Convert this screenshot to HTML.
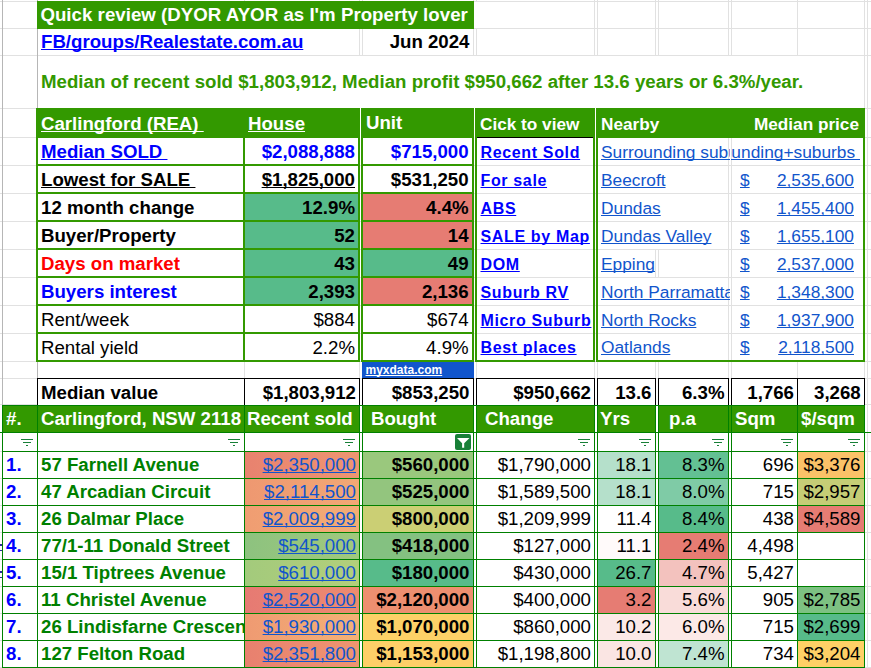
<!DOCTYPE html>
<html><head><meta charset="utf-8"><title>sheet</title>
<style>
html,body{margin:0;padding:0;background:#fff;}
body{width:871px;height:668px;position:relative;overflow:hidden;font-family:"Liberation Sans",sans-serif;}
body div,body svg{position:absolute;}
.t{position:absolute;white-space:nowrap;text-decoration-skip-ink:none;}
.c{overflow:hidden;}
</style></head><body>
<div style="left:0px;top:1px;width:871px;height:1px;background:#e1e1e1;"></div>
<div style="left:0px;top:28px;width:871px;height:1px;background:#e1e1e1;"></div>
<div style="left:0px;top:55px;width:871px;height:1px;background:#e1e1e1;"></div>
<div style="left:0px;top:108px;width:871px;height:1px;background:#e1e1e1;"></div>
<div style="left:0px;top:137px;width:871px;height:1px;background:#e1e1e1;"></div>
<div style="left:0px;top:165px;width:871px;height:1px;background:#e1e1e1;"></div>
<div style="left:0px;top:193px;width:871px;height:1px;background:#e1e1e1;"></div>
<div style="left:0px;top:221px;width:871px;height:1px;background:#e1e1e1;"></div>
<div style="left:0px;top:249px;width:871px;height:1px;background:#e1e1e1;"></div>
<div style="left:0px;top:277px;width:871px;height:1px;background:#e1e1e1;"></div>
<div style="left:0px;top:305px;width:871px;height:1px;background:#e1e1e1;"></div>
<div style="left:0px;top:333px;width:871px;height:1px;background:#e1e1e1;"></div>
<div style="left:0px;top:361px;width:871px;height:1px;background:#e1e1e1;"></div>
<div style="left:0px;top:378px;width:871px;height:1px;background:#e1e1e1;"></div>
<div style="left:0px;top:404px;width:871px;height:1px;background:#e1e1e1;"></div>
<div style="left:37px;top:0px;width:1px;height:405px;background:#b6b6b6;"></div>
<div style="left:244px;top:0px;width:1px;height:405px;background:#e1e1e1;"></div>
<div style="left:359px;top:0px;width:1px;height:405px;background:#e1e1e1;"></div>
<div style="left:362px;top:0px;width:1px;height:405px;background:#e1e1e1;"></div>
<div style="left:473px;top:0px;width:1px;height:405px;background:#e1e1e1;"></div>
<div style="left:476px;top:0px;width:1px;height:405px;background:#e1e1e1;"></div>
<div style="left:594px;top:0px;width:1px;height:405px;background:#e1e1e1;"></div>
<div style="left:597px;top:0px;width:1px;height:405px;background:#e1e1e1;"></div>
<div style="left:655px;top:0px;width:1px;height:405px;background:#e1e1e1;"></div>
<div style="left:658px;top:0px;width:1px;height:405px;background:#e1e1e1;"></div>
<div style="left:728px;top:0px;width:1px;height:405px;background:#e1e1e1;"></div>
<div style="left:731px;top:0px;width:1px;height:405px;background:#e1e1e1;"></div>
<div style="left:797px;top:0px;width:1px;height:405px;background:#e1e1e1;"></div>
<div style="left:864px;top:0px;width:1px;height:405px;background:#e1e1e1;"></div>
<div style="left:867px;top:0px;width:1px;height:405px;background:#e1e1e1;"></div>
<div style="left:2px;top:0px;width:1px;height:405px;background:#b6b6b6;"></div>
<div style="left:867px;top:405px;width:1px;height:263px;background:#e1e1e1;"></div>
<div style="left:474px;top:2px;width:3px;height:26px;background:#fff;"></div>
<div style="left:38px;top:56px;width:826px;height:52px;background:#fff;"></div>
<div style="left:38px;top:29px;width:321px;height:26px;background:#fff;"></div>
<div style="left:363px;top:29px;width:110px;height:26px;background:#fff;"></div>
<div style="left:37px;top:1px;width:437px;height:28px;background:#339900;"></div>
<div class="c" style="left:37px;top:3.03px;width:437px;height:24px;"><span class="t" style="top:3.03px;height:24px;line-height:24px;font-size:18.667px;color:#fff;font-weight:bold;letter-spacing:0.03px;top:0;left:3.3999999999999986px;">Quick review (DYOR AYOR as I'm Property lover</span></div>
<span class="t" style="top:30.03px;height:24px;line-height:24px;font-size:18.667px;color:#0000ff;font-weight:bold;text-decoration:underline;left:41px;">FB/groups/Realestate.com.au</span>
<span class="t" style="top:30.03px;height:24px;line-height:24px;font-size:18.667px;color:#000;font-weight:bold;right:401.5px;">Jun 2024</span>
<span class="t" style="top:70.03px;height:24px;line-height:24px;font-size:18.667px;color:#339900;font-weight:bold;letter-spacing:0.012px;left:41px;">Median of recent sold $1,803,912, Median profit $950,662 after 13.6 years or 6.3%/year.</span>
<div style="left:36px;top:108px;width:829px;height:30px;background:#339900;"></div>
<div style="left:360px;top:108px;width:1px;height:30px;background:#fff;"></div>
<div style="left:474px;top:108px;width:1px;height:30px;background:#fff;"></div>
<div style="left:595px;top:108px;width:1px;height:30px;background:#fff;"></div>
<div style="left:245px;top:194px;width:113px;height:28px;background:#57bb8a;"></div>
<div style="left:245px;top:222px;width:113px;height:28px;background:#57bb8a;"></div>
<div style="left:245px;top:250px;width:113px;height:28px;background:#57bb8a;"></div>
<div style="left:245px;top:278px;width:113px;height:28px;background:#57bb8a;"></div>
<div style="left:363px;top:194px;width:109px;height:28px;background:#e67c73;"></div>
<div style="left:363px;top:222px;width:109px;height:28px;background:#e67c73;"></div>
<div style="left:363px;top:250px;width:109px;height:28px;background:#57bb8a;"></div>
<div style="left:363px;top:278px;width:109px;height:28px;background:#e67c73;"></div>
<div style="left:36px;top:164px;width:324px;height:2px;background:#339900;"></div>
<div style="left:361px;top:164px;width:113px;height:2px;background:#339900;"></div>
<div style="left:36px;top:192px;width:324px;height:2px;background:#339900;"></div>
<div style="left:361px;top:192px;width:113px;height:2px;background:#339900;"></div>
<div style="left:36px;top:220px;width:324px;height:2px;background:#339900;"></div>
<div style="left:361px;top:220px;width:113px;height:2px;background:#339900;"></div>
<div style="left:36px;top:248px;width:324px;height:2px;background:#339900;"></div>
<div style="left:361px;top:248px;width:113px;height:2px;background:#339900;"></div>
<div style="left:36px;top:276px;width:324px;height:2px;background:#339900;"></div>
<div style="left:361px;top:276px;width:113px;height:2px;background:#339900;"></div>
<div style="left:36px;top:304px;width:324px;height:2px;background:#339900;"></div>
<div style="left:361px;top:304px;width:113px;height:2px;background:#339900;"></div>
<div style="left:36px;top:332px;width:324px;height:2px;background:#339900;"></div>
<div style="left:361px;top:332px;width:113px;height:2px;background:#339900;"></div>
<div style="left:36px;top:360px;width:324px;height:2px;background:#339900;"></div>
<div style="left:361px;top:360px;width:113px;height:2px;background:#339900;"></div>
<div style="left:475px;top:360px;width:120px;height:2px;background:#339900;"></div>
<div style="left:596px;top:360px;width:269px;height:2px;background:#339900;"></div>
<div style="left:36px;top:137px;width:2px;height:225px;background:#339900;"></div>
<div style="left:243px;top:137px;width:2px;height:225px;background:#339900;"></div>
<div style="left:358px;top:137px;width:2px;height:225px;background:#339900;"></div>
<div style="left:361px;top:137px;width:2px;height:225px;background:#339900;"></div>
<div style="left:472px;top:137px;width:2px;height:225px;background:#339900;"></div>
<div style="left:475px;top:137px;width:2px;height:225px;background:#339900;"></div>
<div style="left:593px;top:137px;width:2px;height:225px;background:#339900;"></div>
<div style="left:596px;top:137px;width:2px;height:225px;background:#339900;"></div>
<div style="left:863px;top:137px;width:2px;height:225px;background:#339900;"></div>
<div style="left:477px;top:137px;width:116px;height:1px;background:#000;"></div>
<span class="t" style="top:112.03px;height:24px;line-height:24px;font-size:18.667px;color:#fff;font-weight:bold;text-decoration:underline;left:41px;">Carlingford (REA)&nbsp;</span>
<span class="t" style="top:112.03px;height:24px;line-height:24px;font-size:18.667px;color:#fff;font-weight:bold;text-decoration:underline;left:248px;">House</span>
<span class="t" style="top:111.03px;height:24px;line-height:24px;font-size:18.667px;color:#fff;font-weight:bold;left:366px;">Unit</span>
<span class="t" style="top:111.54px;height:24px;line-height:24px;font-size:17.2px;color:#fff;font-weight:bold;left:480px;">Cick to view</span>
<span class="t" style="top:111.54px;height:24px;line-height:24px;font-size:17.2px;color:#fff;font-weight:bold;left:601px;">Nearby</span>
<span class="t" style="top:111.54px;height:24px;line-height:24px;font-size:17.2px;color:#fff;font-weight:bold;right:12px;">Median price</span>
<span class="t" style="top:140.03px;height:24px;line-height:24px;font-size:18.667px;color:#0000ff;font-weight:bold;text-decoration:underline;left:41px;">Median SOLD&nbsp;</span>
<span class="t" style="top:140.03px;height:24px;line-height:24px;font-size:18.667px;color:#0000ff;font-weight:bold;right:516px;">$2,088,888</span>
<span class="t" style="top:140.03px;height:24px;line-height:24px;font-size:18.667px;color:#0000ff;font-weight:bold;right:402.4px;">$715,000</span>
<span class="t" style="top:168.03px;height:24px;line-height:24px;font-size:18.667px;color:#000;font-weight:bold;text-decoration:underline;left:41px;">Lowest for SALE&nbsp;</span>
<span class="t" style="top:168.03px;height:24px;line-height:24px;font-size:18.667px;color:#000;font-weight:bold;text-decoration:underline;right:516px;">$1,825,000</span>
<span class="t" style="top:168.03px;height:24px;line-height:24px;font-size:18.667px;color:#000;font-weight:bold;right:402.4px;">$531,250</span>
<span class="t" style="top:196.03px;height:24px;line-height:24px;font-size:18.667px;color:#000;font-weight:bold;left:41px;">12 month change</span>
<span class="t" style="top:196.03px;height:24px;line-height:24px;font-size:18.667px;color:#000;font-weight:bold;right:516px;">12.9%</span>
<span class="t" style="top:196.03px;height:24px;line-height:24px;font-size:18.667px;color:#000;font-weight:bold;right:402.4px;">4.4%</span>
<span class="t" style="top:224.03px;height:24px;line-height:24px;font-size:18.667px;color:#000;font-weight:bold;left:41px;">Buyer/Property</span>
<span class="t" style="top:224.03px;height:24px;line-height:24px;font-size:18.667px;color:#000;font-weight:bold;right:516px;">52</span>
<span class="t" style="top:224.03px;height:24px;line-height:24px;font-size:18.667px;color:#000;font-weight:bold;right:402.4px;">14</span>
<span class="t" style="top:252.03px;height:24px;line-height:24px;font-size:18.667px;color:#ff0000;font-weight:bold;left:41px;">Days on market</span>
<span class="t" style="top:252.03px;height:24px;line-height:24px;font-size:18.667px;color:#000;font-weight:bold;right:516px;">43</span>
<span class="t" style="top:252.03px;height:24px;line-height:24px;font-size:18.667px;color:#000;font-weight:bold;right:402.4px;">49</span>
<span class="t" style="top:280.03px;height:24px;line-height:24px;font-size:18.667px;color:#0000ff;font-weight:bold;left:41px;">Buyers interest</span>
<span class="t" style="top:280.03px;height:24px;line-height:24px;font-size:18.667px;color:#000;font-weight:bold;right:516px;">2,393</span>
<span class="t" style="top:280.03px;height:24px;line-height:24px;font-size:18.667px;color:#000;font-weight:bold;right:402.4px;">2,136</span>
<span class="t" style="top:308.03px;height:24px;line-height:24px;font-size:18.667px;color:#000;left:41px;">Rent/week</span>
<span class="t" style="top:308.03px;height:24px;line-height:24px;font-size:18.667px;color:#000;right:516px;">$884</span>
<span class="t" style="top:308.03px;height:24px;line-height:24px;font-size:18.667px;color:#000;right:402.4px;">$674</span>
<span class="t" style="top:336.03px;height:24px;line-height:24px;font-size:18.667px;color:#000;left:41px;">Rental yield</span>
<span class="t" style="top:336.03px;height:24px;line-height:24px;font-size:18.667px;color:#000;right:516px;">2.2%</span>
<span class="t" style="top:336.03px;height:24px;line-height:24px;font-size:18.667px;color:#000;right:402.4px;">4.9%</span>
<div class="c" style="left:477px;top:140.96px;width:116px;height:24px;"><span class="t" style="top:140.96px;height:24px;line-height:24px;font-size:16px;color:#0000ff;font-weight:bold;text-decoration:underline;letter-spacing:0.65px;top:0;left:3.5px;">Recent Sold</span></div>
<div class="c" style="left:477px;top:168.96px;width:116px;height:24px;"><span class="t" style="top:168.96px;height:24px;line-height:24px;font-size:16px;color:#0000ff;font-weight:bold;text-decoration:underline;letter-spacing:0.65px;top:0;left:3.5px;">For sale</span></div>
<div class="c" style="left:477px;top:196.96px;width:116px;height:24px;"><span class="t" style="top:196.96px;height:24px;line-height:24px;font-size:16px;color:#0000ff;font-weight:bold;text-decoration:underline;letter-spacing:0.65px;top:0;left:3.5px;">ABS</span></div>
<div class="c" style="left:477px;top:224.96px;width:116px;height:24px;"><span class="t" style="top:224.96px;height:24px;line-height:24px;font-size:16px;color:#0000ff;font-weight:bold;text-decoration:underline;letter-spacing:0.65px;top:0;left:3.5px;">SALE by Map</span></div>
<div class="c" style="left:477px;top:252.96px;width:116px;height:24px;"><span class="t" style="top:252.96px;height:24px;line-height:24px;font-size:16px;color:#0000ff;font-weight:bold;text-decoration:underline;letter-spacing:0.65px;top:0;left:3.5px;">DOM</span></div>
<div class="c" style="left:477px;top:280.96px;width:116px;height:24px;"><span class="t" style="top:280.96px;height:24px;line-height:24px;font-size:16px;color:#0000ff;font-weight:bold;text-decoration:underline;letter-spacing:0.65px;top:0;left:3.5px;">Suburb RV</span></div>
<div class="c" style="left:477px;top:308.96px;width:116px;height:24px;"><span class="t" style="top:308.96px;height:24px;line-height:24px;font-size:16px;color:#0000ff;font-weight:bold;text-decoration:underline;letter-spacing:0.65px;top:0;left:3.5px;">Micro Suburb</span></div>
<div class="c" style="left:477px;top:335.96px;width:116px;height:24px;"><span class="t" style="top:335.96px;height:24px;line-height:24px;font-size:16px;color:#0000ff;font-weight:bold;text-decoration:underline;letter-spacing:0.65px;top:0;left:3.5px;">Best places</span></div>
<div style="left:655px;top:138px;width:4px;height:27px;background:#fff;"></div>
<div style="left:655px;top:166px;width:4px;height:27px;background:#fff;"></div>
<div style="left:655px;top:194px;width:4px;height:27px;background:#fff;"></div>
<div style="left:655px;top:222px;width:4px;height:27px;background:#fff;"></div>
<div style="left:655px;top:278px;width:4px;height:27px;background:#fff;"></div>
<div style="left:655px;top:306px;width:4px;height:27px;background:#fff;"></div>
<div style="left:655px;top:334px;width:4px;height:26px;background:#fff;"></div>
<div style="left:797px;top:138px;width:1px;height:27px;background:#fff;"></div>
<div style="left:797px;top:166px;width:1px;height:27px;background:#fff;"></div>
<div style="left:797px;top:194px;width:1px;height:27px;background:#fff;"></div>
<div style="left:797px;top:222px;width:1px;height:27px;background:#fff;"></div>
<div style="left:797px;top:250px;width:1px;height:27px;background:#fff;"></div>
<div style="left:797px;top:278px;width:1px;height:27px;background:#fff;"></div>
<div style="left:797px;top:306px;width:1px;height:27px;background:#fff;"></div>
<div style="left:797px;top:334px;width:1px;height:26px;background:#fff;"></div>
<div class="c" style="left:598px;top:140.49px;width:132px;height:24px;"><span class="t" style="top:140.49px;height:24px;line-height:24px;font-size:17.333px;color:#1155cc;text-decoration:underline;top:0;left:3px;">Surrounding suburbs</span></div>
<div class="c" style="left:598px;top:168.49px;width:134px;height:24px;"><span class="t" style="top:168.49px;height:24px;line-height:24px;font-size:17.333px;color:#1155cc;text-decoration:underline;top:0;left:3px;">Beecroft</span></div>
<span class="t" style="top:168.49px;height:24px;line-height:24px;font-size:17.333px;color:#1155cc;text-decoration:underline;left:740px;">$</span>
<span class="t" style="top:168.49px;height:24px;line-height:24px;font-size:17.333px;color:#1155cc;text-decoration:underline;right:17px;">2,535,600</span>
<div class="c" style="left:598px;top:196.49px;width:134px;height:24px;"><span class="t" style="top:196.49px;height:24px;line-height:24px;font-size:17.333px;color:#1155cc;text-decoration:underline;top:0;left:3px;">Dundas</span></div>
<span class="t" style="top:196.49px;height:24px;line-height:24px;font-size:17.333px;color:#1155cc;text-decoration:underline;left:740px;">$</span>
<span class="t" style="top:196.49px;height:24px;line-height:24px;font-size:17.333px;color:#1155cc;text-decoration:underline;right:17px;">1,455,400</span>
<div class="c" style="left:598px;top:224.49px;width:134px;height:24px;"><span class="t" style="top:224.49px;height:24px;line-height:24px;font-size:17.333px;color:#1155cc;text-decoration:underline;top:0;left:3px;">Dundas Valley</span></div>
<span class="t" style="top:224.49px;height:24px;line-height:24px;font-size:17.333px;color:#1155cc;text-decoration:underline;left:740px;">$</span>
<span class="t" style="top:224.49px;height:24px;line-height:24px;font-size:17.333px;color:#1155cc;text-decoration:underline;right:17px;">1,655,100</span>
<div class="c" style="left:598px;top:252.49px;width:134px;height:24px;"><span class="t" style="top:252.49px;height:24px;line-height:24px;font-size:17.333px;color:#1155cc;text-decoration:underline;top:0;left:3px;">Epping</span></div>
<span class="t" style="top:252.49px;height:24px;line-height:24px;font-size:17.333px;color:#1155cc;text-decoration:underline;left:740px;">$</span>
<span class="t" style="top:252.49px;height:24px;line-height:24px;font-size:17.333px;color:#1155cc;text-decoration:underline;right:17px;">2,537,000</span>
<div class="c" style="left:598px;top:280.49px;width:132px;height:24px;"><span class="t" style="top:280.49px;height:24px;line-height:24px;font-size:17.333px;color:#1155cc;text-decoration:underline;top:0;left:3px;">North Parramatta</span></div>
<span class="t" style="top:280.49px;height:24px;line-height:24px;font-size:17.333px;color:#1155cc;text-decoration:underline;left:740px;">$</span>
<span class="t" style="top:280.49px;height:24px;line-height:24px;font-size:17.333px;color:#1155cc;text-decoration:underline;right:17px;">1,348,300</span>
<div class="c" style="left:598px;top:308.49px;width:134px;height:24px;"><span class="t" style="top:308.49px;height:24px;line-height:24px;font-size:17.333px;color:#1155cc;text-decoration:underline;top:0;left:3px;">North Rocks</span></div>
<span class="t" style="top:308.49px;height:24px;line-height:24px;font-size:17.333px;color:#1155cc;text-decoration:underline;left:740px;">$</span>
<span class="t" style="top:308.49px;height:24px;line-height:24px;font-size:17.333px;color:#1155cc;text-decoration:underline;right:17px;">1,937,900</span>
<div class="c" style="left:598px;top:335.49px;width:134px;height:24px;"><span class="t" style="top:335.49px;height:24px;line-height:24px;font-size:17.333px;color:#1155cc;text-decoration:underline;top:0;left:3px;">Oatlands</span></div>
<span class="t" style="top:335.49px;height:24px;line-height:24px;font-size:17.333px;color:#1155cc;text-decoration:underline;left:740px;">$</span>
<span class="t" style="top:335.49px;height:24px;line-height:24px;font-size:17.333px;color:#1155cc;text-decoration:underline;right:17px;">2,118,500</span>
<div class="c" style="left:731px;top:140.49px;width:132px;height:24px;"><span class="t" style="top:140.49px;height:24px;line-height:24px;font-size:17.333px;color:#1155cc;text-decoration:underline;top:0;right:3px;">Surrounding+suburbs&nbsp;</span></div>
<div style="left:362px;top:362px;width:112px;height:16px;background:#1155cc;"></div>
<span class="t" style="top:357.84px;height:24px;line-height:24px;font-size:12px;color:#fff;font-weight:bold;text-decoration:underline;left:365.5px;">myxdata.com</span>
<div style="left:37px;top:378px;width:828px;height:27px;background:#fff;"></div>
<div style="left:37px;top:378px;width:828px;height:1px;background:#000;"></div>
<div style="left:37px;top:378px;width:1px;height:28px;background:#000;"></div>
<div style="left:244px;top:378px;width:1px;height:28px;background:#000;"></div>
<div style="left:359px;top:378px;width:1px;height:28px;background:#000;"></div>
<div style="left:362px;top:378px;width:1px;height:28px;background:#000;"></div>
<div style="left:473px;top:378px;width:1px;height:28px;background:#000;"></div>
<div style="left:476px;top:378px;width:1px;height:28px;background:#000;"></div>
<div style="left:594px;top:378px;width:1px;height:28px;background:#000;"></div>
<div style="left:597px;top:378px;width:1px;height:28px;background:#000;"></div>
<div style="left:655px;top:378px;width:1px;height:28px;background:#000;"></div>
<div style="left:658px;top:378px;width:1px;height:28px;background:#000;"></div>
<div style="left:728px;top:378px;width:1px;height:28px;background:#000;"></div>
<div style="left:731px;top:378px;width:1px;height:28px;background:#000;"></div>
<div style="left:797px;top:378px;width:1px;height:28px;background:#000;"></div>
<div style="left:864px;top:378px;width:1px;height:28px;background:#000;"></div>
<div style="left:360px;top:378px;width:2px;height:1px;background:#e1e1e1;"></div>
<div style="left:474px;top:378px;width:2px;height:1px;background:#e1e1e1;"></div>
<div style="left:595px;top:378px;width:2px;height:1px;background:#e1e1e1;"></div>
<div style="left:656px;top:378px;width:2px;height:1px;background:#e1e1e1;"></div>
<div style="left:729px;top:378px;width:2px;height:1px;background:#e1e1e1;"></div>
<span class="t" style="top:381.03px;height:24px;line-height:24px;font-size:18.667px;color:#000;font-weight:bold;left:41px;">Median value</span>
<span class="t" style="top:381.03px;height:24px;line-height:24px;font-size:18.667px;color:#000;font-weight:bold;right:515px;">$1,803,912</span>
<span class="t" style="top:381.03px;height:24px;line-height:24px;font-size:18.667px;color:#000;font-weight:bold;right:401.5px;">$853,250</span>
<span class="t" style="top:381.03px;height:24px;line-height:24px;font-size:18.667px;color:#000;font-weight:bold;right:280px;">$950,662</span>
<span class="t" style="top:381.03px;height:24px;line-height:24px;font-size:18.667px;color:#000;font-weight:bold;right:219.5px;">13.6</span>
<span class="t" style="top:381.03px;height:24px;line-height:24px;font-size:18.667px;color:#000;font-weight:bold;right:146.5px;">6.3%</span>
<span class="t" style="top:381.03px;height:24px;line-height:24px;font-size:18.667px;color:#000;font-weight:bold;right:77px;">1,766</span>
<span class="t" style="top:381.03px;height:24px;line-height:24px;font-size:18.667px;color:#000;font-weight:bold;right:10.299999999999955px;">3,268</span>
<div style="left:2px;top:405px;width:863px;height:27px;background:#339900;"></div>
<div style="left:360px;top:405px;width:2px;height:27px;background:#fff;"></div>
<div style="left:474px;top:405px;width:2px;height:27px;background:#fff;"></div>
<div style="left:595px;top:405px;width:2px;height:27px;background:#fff;"></div>
<div style="left:656px;top:405px;width:2px;height:27px;background:#fff;"></div>
<div style="left:2px;top:405px;width:863px;height:1px;background:#008000;"></div>
<div style="left:0px;top:432px;width:871px;height:1px;background:#008000;"></div>
<div style="left:245px;top:452px;width:114px;height:26px;background:linear-gradient(90deg,#e8826f,#ee9671);"></div>
<div style="left:363px;top:452px;width:110px;height:26px;background:#9ac87d;"></div>
<div style="left:598px;top:452px;width:57px;height:26px;background:#b5e0cb;"></div>
<div style="left:659px;top:452px;width:69px;height:26px;background:#63c093;"></div>
<div style="left:798px;top:452px;width:66px;height:26px;background:#fbc268;"></div>
<div style="left:245px;top:479px;width:114px;height:26px;background:linear-gradient(90deg,#ee9871,#f2a875);"></div>
<div style="left:363px;top:479px;width:110px;height:26px;background:#93c57e;"></div>
<div style="left:598px;top:479px;width:57px;height:26px;background:#b5e0cb;"></div>
<div style="left:659px;top:479px;width:69px;height:26px;background:#7fcba6;"></div>
<div style="left:798px;top:479px;width:66px;height:26px;background:#c5cd76;"></div>
<div style="left:245px;top:506px;width:114px;height:26px;background:linear-gradient(90deg,#f09d72,#f3ad76);"></div>
<div style="left:363px;top:506px;width:110px;height:26px;background:#cbcf74;"></div>
<div style="left:598px;top:506px;width:57px;height:26px;background:#ffffff;"></div>
<div style="left:659px;top:506px;width:69px;height:26px;background:#57bb8a;"></div>
<div style="left:798px;top:506px;width:66px;height:26px;background:#e67c73;"></div>
<div style="left:245px;top:533px;width:114px;height:26px;background:linear-gradient(90deg,#8dc27f,#a1c97d);"></div>
<div style="left:363px;top:533px;width:110px;height:26px;background:#84c181;"></div>
<div style="left:598px;top:533px;width:57px;height:26px;background:#fffafa;"></div>
<div style="left:659px;top:533px;width:69px;height:26px;background:#e67c73;"></div>
<div style="left:798px;top:533px;width:66px;height:26px;background:#ffffff;"></div>
<div style="left:245px;top:560px;width:114px;height:26px;background:linear-gradient(90deg,#a3ca7c,#b3cf7b);"></div>
<div style="left:363px;top:560px;width:110px;height:26px;background:#57bb8a;"></div>
<div style="left:598px;top:560px;width:57px;height:26px;background:#57bb8a;"></div>
<div style="left:659px;top:560px;width:69px;height:26px;background:#f3c2be;"></div>
<div style="left:798px;top:560px;width:66px;height:26px;background:#ffffff;"></div>
<div style="left:245px;top:587px;width:114px;height:26px;background:linear-gradient(90deg,#e67a73,#ec8c70);"></div>
<div style="left:363px;top:587px;width:110px;height:26px;background:#ed8f70;"></div>
<div style="left:598px;top:587px;width:57px;height:26px;background:#e67c73;"></div>
<div style="left:659px;top:587px;width:69px;height:26px;background:#f9dcd9;"></div>
<div style="left:798px;top:587px;width:66px;height:26px;background:#7dc182;"></div>
<div style="left:245px;top:614px;width:114px;height:26px;background:linear-gradient(90deg,#ef9a72,#f4b276);"></div>
<div style="left:363px;top:614px;width:110px;height:26px;background:#fdd167;"></div>
<div style="left:598px;top:614px;width:57px;height:26px;background:#fbe9e7;"></div>
<div style="left:659px;top:614px;width:69px;height:26px;background:#fce9e7;"></div>
<div style="left:798px;top:614px;width:66px;height:26px;background:#57bb8a;"></div>
<div style="left:245px;top:641px;width:114px;height:26px;background:linear-gradient(90deg,#e8806f,#ee9670);"></div>
<div style="left:363px;top:641px;width:110px;height:26px;background:#fecf68;"></div>
<div style="left:598px;top:641px;width:57px;height:26px;background:#fae5e3;"></div>
<div style="left:659px;top:641px;width:69px;height:26px;background:#bfe4d2;"></div>
<div style="left:798px;top:641px;width:66px;height:26px;background:#fed066;"></div>
<div style="left:0px;top:451px;width:2px;height:1px;background:#e1e1e1;"></div>
<div style="left:865px;top:451px;width:6px;height:1px;background:#e1e1e1;"></div>
<div style="left:2px;top:451px;width:863px;height:1px;background:#008000;"></div>
<div style="left:0px;top:478px;width:2px;height:1px;background:#e1e1e1;"></div>
<div style="left:865px;top:478px;width:6px;height:1px;background:#e1e1e1;"></div>
<div style="left:2px;top:478px;width:863px;height:1px;background:#008000;"></div>
<div style="left:0px;top:505px;width:2px;height:1px;background:#e1e1e1;"></div>
<div style="left:865px;top:505px;width:6px;height:1px;background:#e1e1e1;"></div>
<div style="left:2px;top:505px;width:863px;height:1px;background:#008000;"></div>
<div style="left:0px;top:532px;width:2px;height:1px;background:#e1e1e1;"></div>
<div style="left:865px;top:532px;width:6px;height:1px;background:#e1e1e1;"></div>
<div style="left:2px;top:532px;width:863px;height:1px;background:#008000;"></div>
<div style="left:0px;top:559px;width:2px;height:1px;background:#e1e1e1;"></div>
<div style="left:865px;top:559px;width:6px;height:1px;background:#e1e1e1;"></div>
<div style="left:2px;top:559px;width:863px;height:1px;background:#008000;"></div>
<div style="left:0px;top:586px;width:2px;height:1px;background:#e1e1e1;"></div>
<div style="left:865px;top:586px;width:6px;height:1px;background:#e1e1e1;"></div>
<div style="left:2px;top:586px;width:863px;height:1px;background:#008000;"></div>
<div style="left:0px;top:613px;width:2px;height:1px;background:#e1e1e1;"></div>
<div style="left:865px;top:613px;width:6px;height:1px;background:#e1e1e1;"></div>
<div style="left:2px;top:613px;width:863px;height:1px;background:#008000;"></div>
<div style="left:0px;top:640px;width:2px;height:1px;background:#e1e1e1;"></div>
<div style="left:865px;top:640px;width:6px;height:1px;background:#e1e1e1;"></div>
<div style="left:2px;top:640px;width:863px;height:1px;background:#008000;"></div>
<div style="left:0px;top:667px;width:2px;height:1px;background:#e1e1e1;"></div>
<div style="left:865px;top:667px;width:6px;height:1px;background:#e1e1e1;"></div>
<div style="left:2px;top:667px;width:863px;height:1px;background:#008000;"></div>
<div style="left:2px;top:405px;width:1px;height:263px;background:#008000;"></div>
<div style="left:37px;top:405px;width:1px;height:263px;background:#008000;"></div>
<div style="left:244px;top:405px;width:1px;height:263px;background:#008000;"></div>
<div style="left:359px;top:405px;width:1px;height:263px;background:#008000;"></div>
<div style="left:362px;top:405px;width:1px;height:263px;background:#008000;"></div>
<div style="left:473px;top:405px;width:1px;height:263px;background:#008000;"></div>
<div style="left:476px;top:405px;width:1px;height:263px;background:#008000;"></div>
<div style="left:594px;top:405px;width:1px;height:263px;background:#008000;"></div>
<div style="left:597px;top:405px;width:1px;height:263px;background:#008000;"></div>
<div style="left:655px;top:405px;width:1px;height:263px;background:#008000;"></div>
<div style="left:658px;top:405px;width:1px;height:263px;background:#008000;"></div>
<div style="left:728px;top:405px;width:1px;height:263px;background:#008000;"></div>
<div style="left:731px;top:405px;width:1px;height:263px;background:#008000;"></div>
<div style="left:797px;top:405px;width:1px;height:263px;background:#008000;"></div>
<div style="left:864px;top:405px;width:1px;height:263px;background:#008000;"></div>
<span class="t" style="top:407.03px;height:24px;line-height:24px;font-size:18.667px;color:#fff;font-weight:bold;left:6px;">#.</span>
<span class="t" style="top:407.03px;height:24px;line-height:24px;font-size:18.667px;color:#fff;font-weight:bold;left:41px;">Carlingford, NSW 2118</span>
<span class="t" style="top:407.03px;height:24px;line-height:24px;font-size:18.667px;color:#fff;font-weight:bold;left:247px;">Recent sold</span>
<span class="t" style="top:407.03px;height:24px;line-height:24px;font-size:18.667px;color:#fff;font-weight:bold;left:371px;">Bought</span>
<span class="t" style="top:407.03px;height:24px;line-height:24px;font-size:18.667px;color:#fff;font-weight:bold;left:485px;">Change</span>
<span class="t" style="top:407.03px;height:24px;line-height:24px;font-size:18.667px;color:#fff;font-weight:bold;left:600px;">Yrs</span>
<span class="t" style="top:407.03px;height:24px;line-height:24px;font-size:18.667px;color:#fff;font-weight:bold;left:669px;">p.a</span>
<span class="t" style="top:407.03px;height:24px;line-height:24px;font-size:18.667px;color:#fff;font-weight:bold;left:735px;">Sqm</span>
<span class="t" style="top:407.03px;height:24px;line-height:24px;font-size:18.667px;color:#fff;font-weight:bold;left:801px;">$/sqm</span>
<div style="left:21px;top:439px;width:12px;height:1px;background:#188038;"></div>
<div style="left:23px;top:442px;width:7.5px;height:1px;background:#188038;"></div>
<div style="left:26px;top:445px;width:2px;height:1px;background:#188038;"></div>
<div style="left:228px;top:439px;width:12px;height:1px;background:#188038;"></div>
<div style="left:230px;top:442px;width:7.5px;height:1px;background:#188038;"></div>
<div style="left:233px;top:445px;width:2px;height:1px;background:#188038;"></div>
<div style="left:343px;top:439px;width:12px;height:1px;background:#188038;"></div>
<div style="left:345px;top:442px;width:7.5px;height:1px;background:#188038;"></div>
<div style="left:348px;top:445px;width:2px;height:1px;background:#188038;"></div>
<div style="left:578px;top:439px;width:12px;height:1px;background:#188038;"></div>
<div style="left:580px;top:442px;width:7.5px;height:1px;background:#188038;"></div>
<div style="left:583px;top:445px;width:2px;height:1px;background:#188038;"></div>
<div style="left:639px;top:439px;width:12px;height:1px;background:#188038;"></div>
<div style="left:641px;top:442px;width:7.5px;height:1px;background:#188038;"></div>
<div style="left:644px;top:445px;width:2px;height:1px;background:#188038;"></div>
<div style="left:712px;top:439px;width:12px;height:1px;background:#188038;"></div>
<div style="left:714px;top:442px;width:7.5px;height:1px;background:#188038;"></div>
<div style="left:717px;top:445px;width:2px;height:1px;background:#188038;"></div>
<div style="left:781px;top:439px;width:12px;height:1px;background:#188038;"></div>
<div style="left:783px;top:442px;width:7.5px;height:1px;background:#188038;"></div>
<div style="left:786px;top:445px;width:2px;height:1px;background:#188038;"></div>
<div style="left:848px;top:439px;width:12px;height:1px;background:#188038;"></div>
<div style="left:850px;top:442px;width:7.5px;height:1px;background:#188038;"></div>
<div style="left:853px;top:445px;width:2px;height:1px;background:#188038;"></div>
<svg style="left:455px;top:434px" width="16" height="16" viewBox="0 0 16 16"><rect width="16" height="16" rx="2" fill="#188038"/><path d="M2 4 H14.5 L9.2 9.3 V13.8 H7.1 V9.3 Z" fill="#fff"/></svg>
<span class="t" style="top:452.53px;height:24px;line-height:24px;font-size:18.667px;color:#0000ff;font-weight:bold;left:6px;">1.</span>
<div class="c" style="left:38px;top:452.53px;width:206px;height:24px;"><span class="t" style="top:452.53px;height:24px;line-height:24px;font-size:18.667px;color:#008000;font-weight:bold;top:0;left:3px;">57 Farnell Avenue</span></div>
<span class="t" style="top:452.53px;height:24px;line-height:24px;font-size:18.667px;color:#1155cc;text-decoration:underline;right:515px;">$2,350,000</span>
<span class="t" style="top:452.53px;height:24px;line-height:24px;font-size:18.667px;color:#000;font-weight:bold;right:401.5px;">$560,000</span>
<span class="t" style="top:452.53px;height:24px;line-height:24px;font-size:18.667px;color:#000;right:280px;">$1,790,000</span>
<span class="t" style="top:452.53px;height:24px;line-height:24px;font-size:18.667px;color:#000;right:219.5px;">18.1</span>
<span class="t" style="top:452.53px;height:24px;line-height:24px;font-size:18.667px;color:#000;right:146.5px;">8.3%</span>
<span class="t" style="top:452.53px;height:24px;line-height:24px;font-size:18.667px;color:#000;right:77px;">696</span>
<span class="t" style="top:452.53px;height:24px;line-height:24px;font-size:18.667px;color:#000;right:10.5px;">$3,376</span>
<span class="t" style="top:479.53px;height:24px;line-height:24px;font-size:18.667px;color:#0000ff;font-weight:bold;left:6px;">2.</span>
<div class="c" style="left:38px;top:479.53px;width:206px;height:24px;"><span class="t" style="top:479.53px;height:24px;line-height:24px;font-size:18.667px;color:#008000;font-weight:bold;top:0;left:3px;">47 Arcadian Circuit</span></div>
<span class="t" style="top:479.53px;height:24px;line-height:24px;font-size:18.667px;color:#1155cc;text-decoration:underline;right:515px;">$2,114,500</span>
<span class="t" style="top:479.53px;height:24px;line-height:24px;font-size:18.667px;color:#000;font-weight:bold;right:401.5px;">$525,000</span>
<span class="t" style="top:479.53px;height:24px;line-height:24px;font-size:18.667px;color:#000;right:280px;">$1,589,500</span>
<span class="t" style="top:479.53px;height:24px;line-height:24px;font-size:18.667px;color:#000;right:219.5px;">18.1</span>
<span class="t" style="top:479.53px;height:24px;line-height:24px;font-size:18.667px;color:#000;right:146.5px;">8.0%</span>
<span class="t" style="top:479.53px;height:24px;line-height:24px;font-size:18.667px;color:#000;right:77px;">715</span>
<span class="t" style="top:479.53px;height:24px;line-height:24px;font-size:18.667px;color:#000;right:10.5px;">$2,957</span>
<span class="t" style="top:506.53px;height:24px;line-height:24px;font-size:18.667px;color:#0000ff;font-weight:bold;left:6px;">3.</span>
<div class="c" style="left:38px;top:506.53px;width:206px;height:24px;"><span class="t" style="top:506.53px;height:24px;line-height:24px;font-size:18.667px;color:#008000;font-weight:bold;top:0;left:3px;">26 Dalmar Place</span></div>
<span class="t" style="top:506.53px;height:24px;line-height:24px;font-size:18.667px;color:#1155cc;text-decoration:underline;right:515px;">$2,009,999</span>
<span class="t" style="top:506.53px;height:24px;line-height:24px;font-size:18.667px;color:#000;font-weight:bold;right:401.5px;">$800,000</span>
<span class="t" style="top:506.53px;height:24px;line-height:24px;font-size:18.667px;color:#000;right:280px;">$1,209,999</span>
<span class="t" style="top:506.53px;height:24px;line-height:24px;font-size:18.667px;color:#000;right:219.5px;">11.4</span>
<span class="t" style="top:506.53px;height:24px;line-height:24px;font-size:18.667px;color:#000;right:146.5px;">8.4%</span>
<span class="t" style="top:506.53px;height:24px;line-height:24px;font-size:18.667px;color:#000;right:77px;">438</span>
<span class="t" style="top:506.53px;height:24px;line-height:24px;font-size:18.667px;color:#000;right:10.5px;">$4,589</span>
<span class="t" style="top:533.53px;height:24px;line-height:24px;font-size:18.667px;color:#0000ff;font-weight:bold;left:6px;">4.</span>
<div class="c" style="left:38px;top:533.53px;width:206px;height:24px;"><span class="t" style="top:533.53px;height:24px;line-height:24px;font-size:18.667px;color:#008000;font-weight:bold;top:0;left:3px;">77/1-11 Donald Street</span></div>
<span class="t" style="top:533.53px;height:24px;line-height:24px;font-size:18.667px;color:#1155cc;text-decoration:underline;right:515px;">$545,000</span>
<span class="t" style="top:533.53px;height:24px;line-height:24px;font-size:18.667px;color:#000;font-weight:bold;right:401.5px;">$418,000</span>
<span class="t" style="top:533.53px;height:24px;line-height:24px;font-size:18.667px;color:#000;right:280px;">$127,000</span>
<span class="t" style="top:533.53px;height:24px;line-height:24px;font-size:18.667px;color:#000;right:219.5px;">11.1</span>
<span class="t" style="top:533.53px;height:24px;line-height:24px;font-size:18.667px;color:#000;right:146.5px;">2.4%</span>
<span class="t" style="top:533.53px;height:24px;line-height:24px;font-size:18.667px;color:#000;right:77px;">4,498</span>
<span class="t" style="top:560.53px;height:24px;line-height:24px;font-size:18.667px;color:#0000ff;font-weight:bold;left:6px;">5.</span>
<div class="c" style="left:38px;top:560.53px;width:206px;height:24px;"><span class="t" style="top:560.53px;height:24px;line-height:24px;font-size:18.667px;color:#008000;font-weight:bold;top:0;left:3px;">15/1 Tiptrees Avenue</span></div>
<span class="t" style="top:560.53px;height:24px;line-height:24px;font-size:18.667px;color:#1155cc;text-decoration:underline;right:515px;">$610,000</span>
<span class="t" style="top:560.53px;height:24px;line-height:24px;font-size:18.667px;color:#000;font-weight:bold;right:401.5px;">$180,000</span>
<span class="t" style="top:560.53px;height:24px;line-height:24px;font-size:18.667px;color:#000;right:280px;">$430,000</span>
<span class="t" style="top:560.53px;height:24px;line-height:24px;font-size:18.667px;color:#000;right:219.5px;">26.7</span>
<span class="t" style="top:560.53px;height:24px;line-height:24px;font-size:18.667px;color:#000;right:146.5px;">4.7%</span>
<span class="t" style="top:560.53px;height:24px;line-height:24px;font-size:18.667px;color:#000;right:77px;">5,427</span>
<span class="t" style="top:587.53px;height:24px;line-height:24px;font-size:18.667px;color:#0000ff;font-weight:bold;left:6px;">6.</span>
<div class="c" style="left:38px;top:587.53px;width:206px;height:24px;"><span class="t" style="top:587.53px;height:24px;line-height:24px;font-size:18.667px;color:#008000;font-weight:bold;top:0;left:3px;">11 Christel Avenue</span></div>
<span class="t" style="top:587.53px;height:24px;line-height:24px;font-size:18.667px;color:#1155cc;text-decoration:underline;right:515px;">$2,520,000</span>
<span class="t" style="top:587.53px;height:24px;line-height:24px;font-size:18.667px;color:#000;font-weight:bold;right:401.5px;">$2,120,000</span>
<span class="t" style="top:587.53px;height:24px;line-height:24px;font-size:18.667px;color:#000;right:280px;">$400,000</span>
<span class="t" style="top:587.53px;height:24px;line-height:24px;font-size:18.667px;color:#000;right:219.5px;">3.2</span>
<span class="t" style="top:587.53px;height:24px;line-height:24px;font-size:18.667px;color:#000;right:146.5px;">5.6%</span>
<span class="t" style="top:587.53px;height:24px;line-height:24px;font-size:18.667px;color:#000;right:77px;">905</span>
<span class="t" style="top:587.53px;height:24px;line-height:24px;font-size:18.667px;color:#000;right:10.5px;">$2,785</span>
<span class="t" style="top:614.53px;height:24px;line-height:24px;font-size:18.667px;color:#0000ff;font-weight:bold;left:6px;">7.</span>
<div class="c" style="left:38px;top:614.53px;width:206px;height:24px;"><span class="t" style="top:614.53px;height:24px;line-height:24px;font-size:18.667px;color:#008000;font-weight:bold;top:0;left:3px;">26 Lindisfarne Crescent</span></div>
<span class="t" style="top:614.53px;height:24px;line-height:24px;font-size:18.667px;color:#1155cc;text-decoration:underline;right:515px;">$1,930,000</span>
<span class="t" style="top:614.53px;height:24px;line-height:24px;font-size:18.667px;color:#000;font-weight:bold;right:401.5px;">$1,070,000</span>
<span class="t" style="top:614.53px;height:24px;line-height:24px;font-size:18.667px;color:#000;right:280px;">$860,000</span>
<span class="t" style="top:614.53px;height:24px;line-height:24px;font-size:18.667px;color:#000;right:219.5px;">10.2</span>
<span class="t" style="top:614.53px;height:24px;line-height:24px;font-size:18.667px;color:#000;right:146.5px;">6.0%</span>
<span class="t" style="top:614.53px;height:24px;line-height:24px;font-size:18.667px;color:#000;right:77px;">715</span>
<span class="t" style="top:614.53px;height:24px;line-height:24px;font-size:18.667px;color:#000;right:10.5px;">$2,699</span>
<span class="t" style="top:641.53px;height:24px;line-height:24px;font-size:18.667px;color:#0000ff;font-weight:bold;left:6px;">8.</span>
<div class="c" style="left:38px;top:641.53px;width:206px;height:24px;"><span class="t" style="top:641.53px;height:24px;line-height:24px;font-size:18.667px;color:#008000;font-weight:bold;top:0;left:3px;">127 Felton Road</span></div>
<span class="t" style="top:641.53px;height:24px;line-height:24px;font-size:18.667px;color:#1155cc;text-decoration:underline;right:515px;">$2,351,800</span>
<span class="t" style="top:641.53px;height:24px;line-height:24px;font-size:18.667px;color:#000;font-weight:bold;right:401.5px;">$1,153,000</span>
<span class="t" style="top:641.53px;height:24px;line-height:24px;font-size:18.667px;color:#000;right:280px;">$1,198,800</span>
<span class="t" style="top:641.53px;height:24px;line-height:24px;font-size:18.667px;color:#000;right:219.5px;">10.0</span>
<span class="t" style="top:641.53px;height:24px;line-height:24px;font-size:18.667px;color:#000;right:146.5px;">7.4%</span>
<span class="t" style="top:641.53px;height:24px;line-height:24px;font-size:18.667px;color:#000;right:77px;">734</span>
<span class="t" style="top:641.53px;height:24px;line-height:24px;font-size:18.667px;color:#000;right:10.5px;">$3,204</span>
<div style="left:0px;top:544px;width:1.6px;height:1.5px;background:#2a2a9a;"></div>
<div style="left:0px;top:549.5px;width:1.6px;height:1.5px;background:#2a2a9a;"></div>
<div style="left:0px;top:571px;width:1.6px;height:1.5px;background:#2a2a9a;"></div>
<div style="left:0px;top:576.5px;width:1.6px;height:1.5px;background:#2a2a9a;"></div>
</body></html>
